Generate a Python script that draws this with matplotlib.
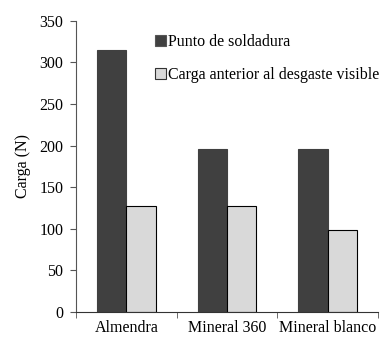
import matplotlib
matplotlib.use("Agg")
import matplotlib.pyplot as plt
import numpy as np
from matplotlib.patches import Patch

categories = ["Almendra", "Mineral 360", "Mineral blanco"]
punto_soldadura = [315, 196, 196]
carga_desgaste = [127, 127, 98]
series_labels = ["Punto de soldadura", "Carga anterior al desgaste visible"]

plt.rcParams["font.family"] = ["Liberation Serif", "DejaVu Serif"]
FS = 11.5

fig = plt.figure(figsize=(3.88, 3.42), dpi=100)
ax = fig.add_axes([0.196, 0.088, 0.778, 0.851])

x = np.arange(len(categories))
w = 0.29
dark = "#404040"
light = "#d9d9d9"
ax.bar(x - w / 2, punto_soldadura, w, color=dark, edgecolor=dark, linewidth=0.8)
ax.bar(x + w / 2, carga_desgaste, w, color=light, edgecolor="black", linewidth=0.8)

ax.set_xlim(-0.5, len(categories) - 0.5)
ax.set_ylim(0, 350)
ax.set_yticks(np.arange(0, 351, 50))
ax.set_xticks(x)
ax.set_xticklabels(categories, fontsize=FS)
ax.tick_params(axis="x", length=0, pad=6)
ax.set_xticks(np.arange(-0.5, len(categories)), minor=True)
ax.tick_params(axis="x", which="minor", length=4, direction="out", color="#555555")
ax.tick_params(axis="y", length=4, direction="out", labelsize=FS, color="#555555", pad=5)

for s in ("top", "right"):
    ax.spines[s].set_visible(False)
ax.spines["left"].set_color("#555555")
ax.spines["bottom"].set_color("#333333")

ax.set_ylabel("Carga (N)", fontsize=FS, labelpad=6)

handles = [Patch(facecolor=dark, edgecolor="#555555", linewidth=0.8),
           Patch(facecolor=light, edgecolor="#333333", linewidth=0.8)]
ax.legend(handles, series_labels, loc="upper left", bbox_to_anchor=(0.25, 0.965),
          frameon=False, fontsize=FS, handlelength=0.7, handleheight=0.7,
          handletextpad=0.15, labelspacing=1.05, borderaxespad=0,
          borderpad=0.2)

fig.savefig("out.png", dpi=100)
